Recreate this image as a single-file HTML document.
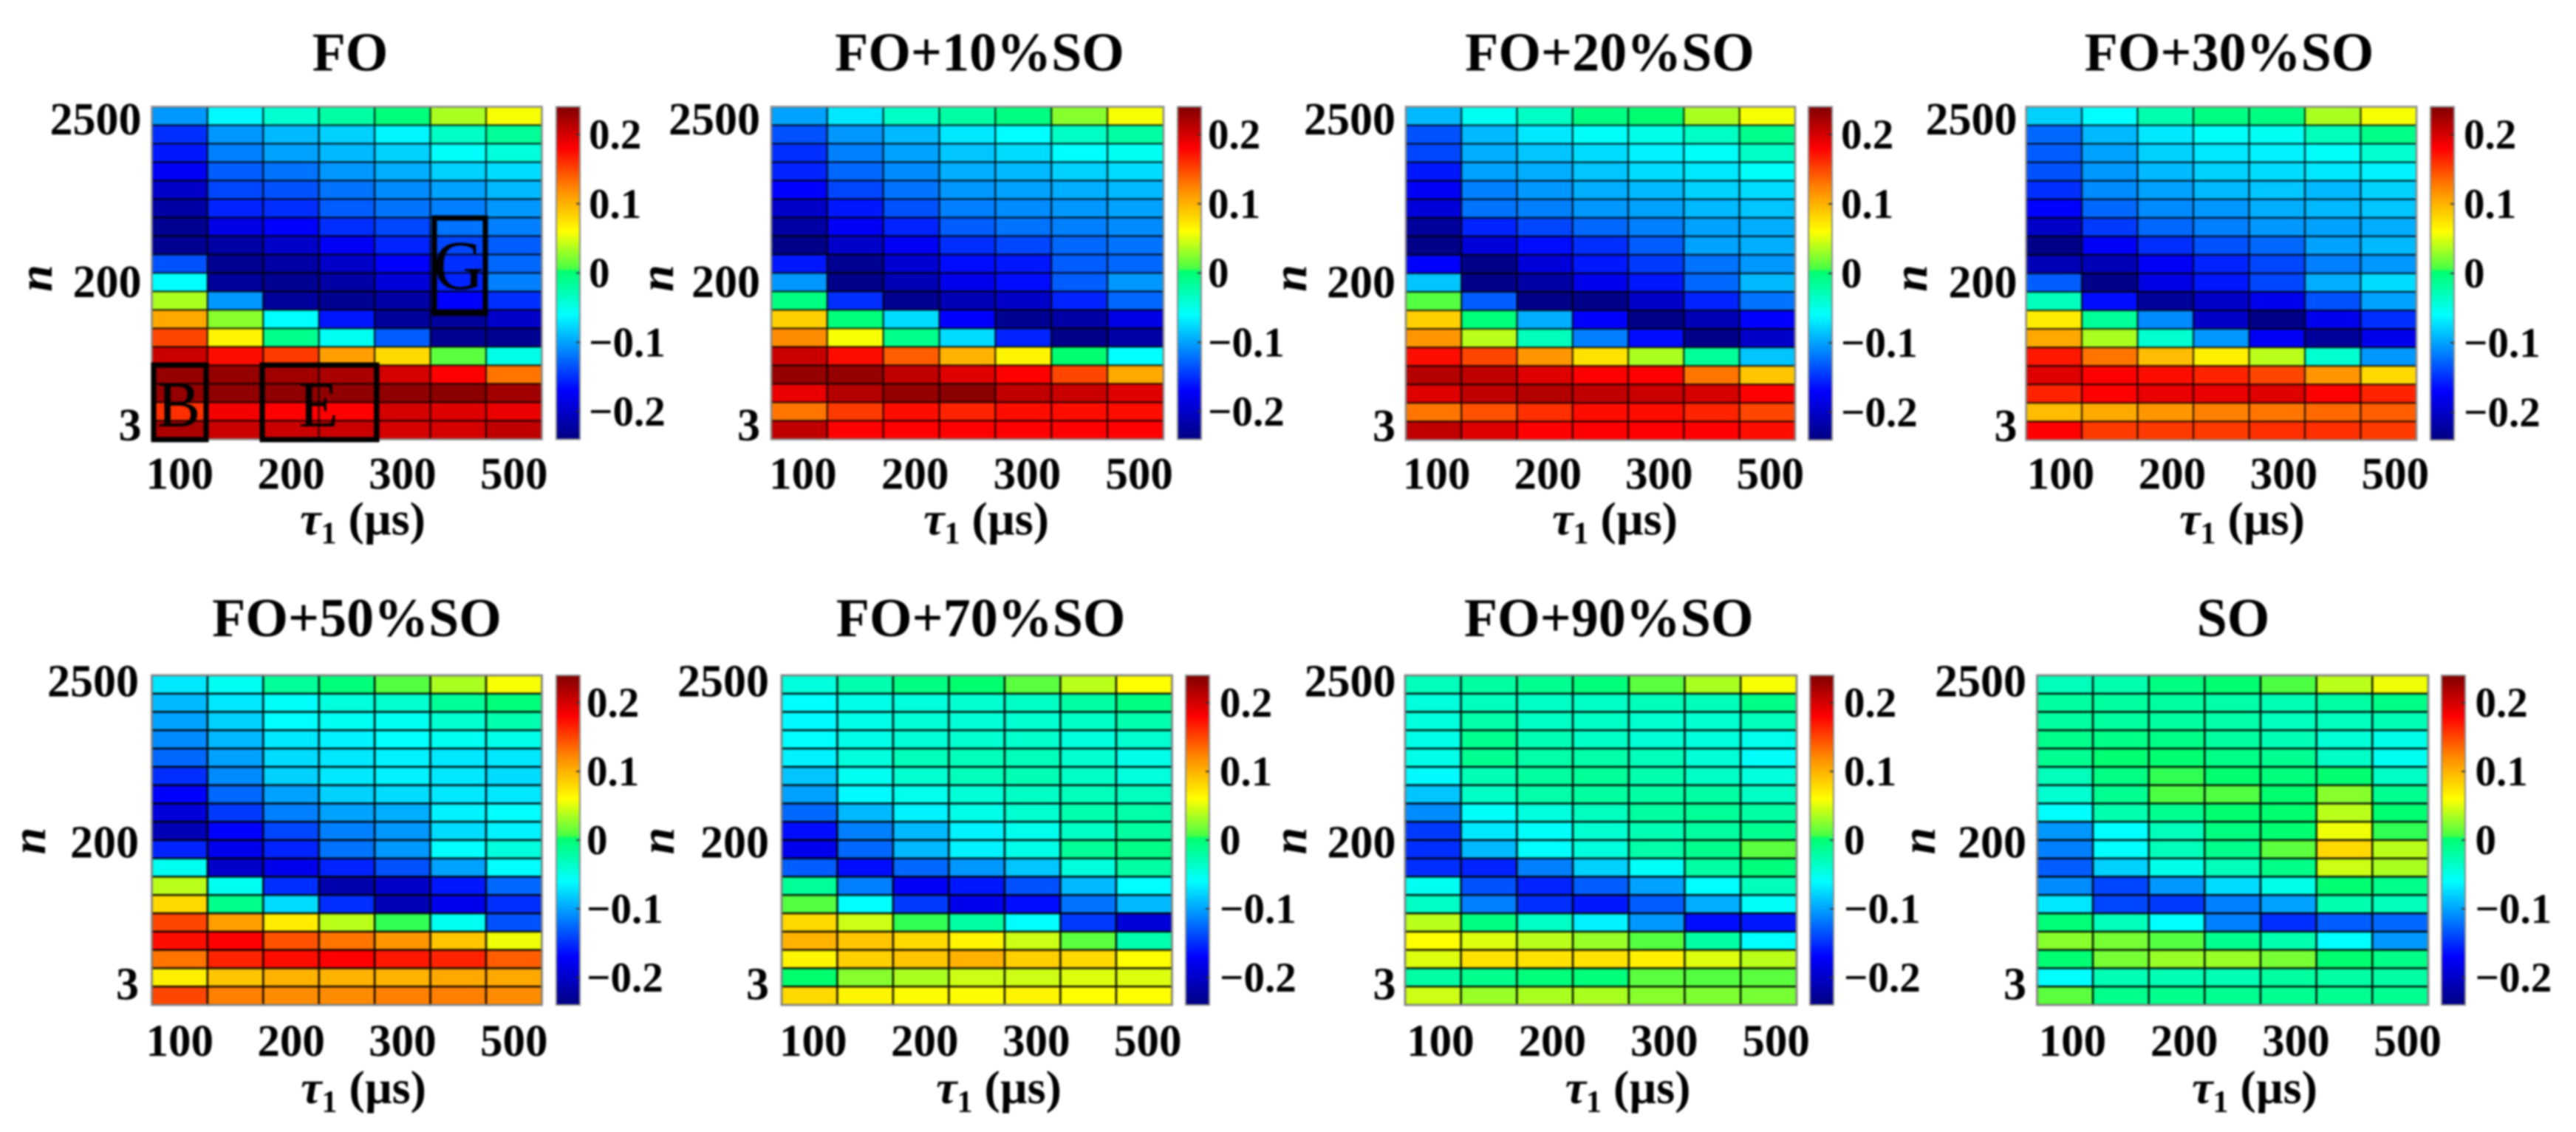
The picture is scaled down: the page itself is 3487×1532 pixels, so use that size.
<!DOCTYPE html>
<html lang="en">
<head>
<meta charset="utf-8">
<title>Heatmaps of n versus τ1 for FO and SO blends</title>
<style>
html,body{margin:0;padding:0;background:#fff;}
svg{display:block;filter:blur(1.3px);}
text{font-family:"Liberation Serif","DejaVu Serif",serif;fill:#000;}
.b{font-weight:bold;}
</style>
</head>
<body>
<svg id="chart" xmlns="http://www.w3.org/2000/svg" width="3487" height="1532" viewBox="0 0 3487 1532">
<rect width="3487" height="1532" fill="#fff"/>
<defs id="defs"></defs>
<g id="panels"></g>
<g>
  <rect x="208" y="494" width="71" height="101" fill="none" stroke="#000" stroke-width="7"/>
  <rect x="355" y="494" width="155" height="101" fill="none" stroke="#000" stroke-width="7"/>
  <rect x="588" y="295" width="69" height="129" fill="none" stroke="#000" stroke-width="7"/>
  <text x="242" y="577" font-size="88" text-anchor="middle">B</text>
  <text x="431" y="577" font-size="88" text-anchor="middle">E</text>
  <text x="621" y="391" font-size="94" text-anchor="middle">G</text>
</g>
</svg>
<script>
const tauValues = [100, 150, 200, 250, 300, 400, 500];
const nValues = [2500, 2000, 1500, 1000, 800, 600, 500, 400, 300, 200, 100, 50, 30, 20, 10, 7, 5, 3];
const xTickLabels = ['100', '200', '300', '500'];
const xTickValues = [100, 200, 300, 500];
const yTickLabels = ['2500', '200', '3'];
const yTickRowIndex = [0.2, 9.0, 16.76];
const cbarTickValues = [0.2, 0.1, 0, -0.1, -0.2];
const cbarTickLabels = ['0.2', '0.1', '0', '\u22120.1', '\u22120.2'];
const colorDomain = [-0.24, 0.24];
const colorStopValues = [-0.24, -0.17, -0.06, 0.003, 0.006, 0.06, 0.12, 0.18, 0.24];
const colorStopColors = [[0,0,128],[0,0,255],[0,255,255],[0,255,110],[70,255,70],[255,255,0],[255,140,0],[255,0,0],[128,0,0]];
const panelTitles = ['FO', 'FO+10%SO', 'FO+20%SO', 'FO+30%SO', 'FO+50%SO', 'FO+70%SO', 'FO+90%SO', 'SO'];

const valuesFO = [
[-.105,-.062,-.04,-.02,-.002,.035,.058],
[-.15,-.105,-.09,-.08,-.064,-.035,-.015],
[-.16,-.115,-.10,-.09,-.08,-.058,-.045],
[-.175,-.13,-.12,-.105,-.095,-.08,-.075],
[-.2,-.14,-.135,-.12,-.11,-.10,-.09],
[-.22,-.155,-.15,-.13,-.12,-.115,-.105],
[-.23,-.185,-.17,-.15,-.14,-.12,-.115],
[-.23,-.22,-.2,-.175,-.155,-.14,-.13],
[-.135,-.23,-.22,-.2,-.17,-.15,-.125],
[-.06,-.225,-.23,-.22,-.19,-.155,-.115],
[.035,-.105,-.225,-.23,-.22,-.17,-.15],
[.105,.025,-.06,-.16,-.225,-.225,-.2],
[.15,.065,-.01,-.055,-.13,-.23,-.23],
[.205,.175,.155,.11,.08,.012,-.05],
[.23,.23,.225,.22,.2,.18,.13],
[.23,.232,.232,.232,.232,.235,.225],
[.16,.185,.18,.18,.2,.195,.19],
[.22,.205,.205,.205,.2,.2,.21]];
const valuesFO10 = [
[-.1,-.07,-.035,-.02,-.005,.025,.058],
[-.135,-.105,-.09,-.07,-.06,-.035,-.02],
[-.15,-.115,-.1,-.085,-.075,-.06,-.055],
[-.155,-.125,-.11,-.095,-.09,-.08,-.075],
[-.17,-.14,-.12,-.105,-.1,-.095,-.09],
[-.2,-.16,-.135,-.115,-.11,-.105,-.1],
[-.22,-.175,-.155,-.13,-.12,-.115,-.11],
[-.235,-.2,-.175,-.15,-.14,-.125,-.12],
[-.16,-.23,-.195,-.165,-.16,-.13,-.125],
[-.105,-.235,-.21,-.18,-.165,-.13,-.105],
[-.005,-.15,-.23,-.21,-.2,-.155,-.125],
[.085,-.002,-.075,-.17,-.23,-.22,-.185],
[.12,.058,-.01,-.075,-.155,-.235,-.22],
[.205,.175,.14,.1,.065,.002,-.06],
[.23,.23,.21,.195,.18,.15,.105],
[.19,.215,.23,.235,.21,.205,.195],
[.13,.155,.175,.165,.175,.175,.175],
[.21,.18,.18,.18,.18,.18,.18]];
const valuesFO20 = [
[-.09,-.055,-.035,-.005,.002,.035,.058],
[-.135,-.09,-.07,-.058,-.05,-.035,-.01],
[-.14,-.095,-.085,-.075,-.065,-.058,-.035],
[-.16,-.1,-.095,-.085,-.075,-.07,-.058],
[-.175,-.115,-.105,-.095,-.09,-.08,-.075],
[-.19,-.12,-.115,-.105,-.1,-.09,-.085],
[-.225,-.155,-.14,-.125,-.115,-.1,-.095],
[-.235,-.19,-.165,-.15,-.13,-.1,-.095],
[-.17,-.235,-.19,-.16,-.145,-.12,-.105],
[-.085,-.235,-.22,-.18,-.16,-.125,-.09],
[.01,-.13,-.235,-.235,-.2,-.155,-.12],
[.085,-.002,-.095,-.17,-.235,-.21,-.17],
[.115,.04,-.03,-.115,-.165,-.235,-.2],
[.175,.15,.115,.075,.035,-.015,-.085],
[.215,.21,.195,.18,.18,.13,.09],
[.195,.21,.215,.21,.205,.2,.18],
[.13,.145,.16,.175,.175,.165,.15],
[.21,.195,.18,.18,.18,.18,.175]];
const valuesFO30 = [
[-.08,-.06,-.025,-.005,-.005,.035,.058],
[-.125,-.09,-.07,-.058,-.055,-.03,-.008],
[-.13,-.1,-.08,-.07,-.065,-.058,-.04],
[-.135,-.105,-.09,-.08,-.075,-.07,-.065],
[-.15,-.11,-.1,-.09,-.085,-.09,-.08],
[-.17,-.125,-.11,-.105,-.095,-.09,-.085],
[-.2,-.145,-.125,-.115,-.105,-.1,-.095],
[-.235,-.175,-.15,-.135,-.125,-.1,-.09],
[-.21,-.21,-.175,-.155,-.14,-.115,-.105],
[-.13,-.235,-.185,-.16,-.14,-.095,-.075],
[-.03,-.165,-.225,-.2,-.18,-.135,-.1],
[.07,-.015,-.11,-.2,-.235,-.18,-.15],
[.105,.035,-.04,-.105,-.175,-.225,-.18],
[.17,.13,.095,.068,.04,-.04,-.105],
[.195,.18,.175,.165,.15,.115,.08],
[.165,.18,.19,.19,.195,.18,.165],
[.095,.105,.115,.125,.13,.135,.14],
[.18,.155,.155,.155,.16,.16,.155]];
const valuesFO50 = [
[-.07,-.055,-.015,-.002,.01,.035,.058],
[-.09,-.07,-.058,-.045,-.04,-.015,-.002],
[-.1,-.08,-.06,-.055,-.055,-.04,-.025],
[-.11,-.09,-.07,-.065,-.06,-.055,-.05],
[-.125,-.1,-.075,-.07,-.065,-.07,-.07],
[-.15,-.11,-.08,-.07,-.065,-.07,-.075],
[-.17,-.125,-.1,-.08,-.075,-.07,-.07],
[-.19,-.145,-.115,-.1,-.095,-.065,-.06],
[-.21,-.17,-.14,-.115,-.105,-.075,-.065],
[-.155,-.18,-.155,-.12,-.105,-.06,-.045],
[-.055,-.2,-.18,-.155,-.135,-.1,-.06],
[.04,-.055,-.15,-.215,-.2,-.16,-.125],
[.08,-.01,-.075,-.15,-.21,-.18,-.15],
[.15,.11,.07,.04,.005,-.055,-.135],
[.175,.18,.145,.13,.115,.09,.055],
[.13,.165,.175,.18,.17,.165,.14],
[.068,.09,.1,.1,.1,.105,.105],
[.15,.125,.12,.12,.125,.125,.12]];
const valuesFO70 = [
[-.045,-.025,-.005,.003,.012,.04,.06],
[-.06,-.05,-.045,-.04,-.035,-.02,-.005],
[-.062,-.05,-.042,-.042,-.04,-.035,-.025],
[-.06,-.05,-.042,-.04,-.038,-.045,-.04],
[-.065,-.045,-.03,-.03,-.03,-.04,-.05],
[-.085,-.055,-.04,-.03,-.028,-.035,-.045],
[-.1,-.062,-.052,-.042,-.035,-.03,-.032],
[-.125,-.09,-.065,-.05,-.04,-.025,-.022],
[-.165,-.115,-.09,-.065,-.052,-.035,-.018],
[-.18,-.125,-.09,-.065,-.05,-.015,-.008],
[-.13,-.165,-.125,-.105,-.085,-.045,-.02],
[-.015,-.115,-.175,-.16,-.135,-.09,-.06],
[.01,-.06,-.145,-.18,-.165,-.12,-.09],
[.08,.045,.005,-.02,-.06,-.145,-.19],
[.1,.09,.08,.065,.045,.012,-.025],
[.065,.085,.09,.1,.085,.08,.06],
[.003,.025,.035,.045,.045,.05,.05],
[.08,.065,.062,.062,.065,.06,.06]];
const valuesFO90 = [
[-.03,-.018,-.012,-.002,.012,.035,.058],
[-.045,-.032,-.035,-.035,-.03,-.03,-.008],
[-.045,-.022,-.035,-.035,-.04,-.04,-.03],
[-.05,-.012,-.028,-.035,-.042,-.045,-.052],
[-.05,-.012,-.022,-.022,-.03,-.042,-.058],
[-.062,-.028,-.018,-.015,-.025,-.035,-.045],
[-.085,-.035,-.022,-.018,-.02,-.02,-.035],
[-.11,-.058,-.045,-.032,-.018,-.015,-.02],
[-.145,-.07,-.058,-.04,-.028,-.018,-.012],
[-.15,-.09,-.06,-.045,-.022,-.01,.012],
[-.15,-.155,-.115,-.08,-.058,-.02,-.002],
[-.055,-.135,-.155,-.13,-.1,-.06,-.03],
[-.035,-.115,-.15,-.16,-.13,-.095,-.058],
[.04,-.005,-.035,-.065,-.105,-.165,-.16],
[.06,.05,.04,.03,.01,-.02,-.06],
[.05,.075,.075,.075,.068,.05,.04],
[-.02,-.01,-.002,-.002,.012,.01,.012],
[.045,.03,.035,.035,.025,.022,.02]];
const valuesSO = [
[-.03,-.025,-.005,.002,.008,.04,.055],
[-.018,-.018,-.018,-.022,-.028,-.02,-.008],
[-.018,-.018,-.018,-.022,-.032,-.032,-.028],
[-.01,-.008,-.008,-.018,-.028,-.042,-.05],
[-.012,.001,.001,-.008,-.012,-.035,-.055],
[-.03,-.006,.005,.002,-.002,.002,-.035],
[-.04,-.012,.008,.009,.002,.025,-.012],
[-.06,-.025,-.012,.002,.002,.04,.001],
[-.105,-.06,-.03,-.005,.002,.055,.005],
[-.115,-.06,-.03,-.01,.012,.08,.04],
[-.13,-.08,-.05,-.03,-.008,.045,.035],
[-.11,-.14,-.105,-.075,-.05,.001,-.01],
[-.07,-.14,-.145,-.115,-.1,-.025,-.03],
[-.001,-.03,-.06,-.115,-.15,-.13,-.125],
[.025,.02,.01,-.012,-.025,-.06,-.105],
[.001,.02,.03,.03,.02,.002,-.008],
[-.06,-.028,-.028,-.028,-.018,-.02,-.02],
[.012,-.01,-.01,-.012,-.012,-.012,-.012]];
const panelValues = [valuesFO, valuesFO10, valuesFO20, valuesFO30, valuesFO50, valuesFO70, valuesFO90, valuesSO];

/* Layout of each subplot on the canvas (not data). */
const layouts = [
 {x:205.5, w:528, y:144.5, h:450, cb:753,  cl:797,  yr:191.5, xd:0,  title:474,    xl:491,    nx:70},
 {x:1044,  w:531, y:144.5, h:450, cb:1594, cl:1635, yr:1029,  xd:5,  title:1326,   xl:1335,   nx:911},
 {x:1903,  w:527, y:144.5, h:451, cb:2448, cl:2492, yr:1889,  xd:4,  title:2179,   xl:2186,   nx:1768},
 {x:2742.6,w:528.5,y:144.5,h:451, cb:3290, cl:3335, yr:2730.5,xd:9,  title:3017.5, xl:3035,   nx:2608},
 {x:205.5, w:528, y:914,   h:446, cb:753,  cl:794,  yr:188,   xd:0,  title:483,    xl:492,    nx:61},
 {x:1058,  w:528.5,y:914,  h:446, cb:1605, cl:1651, yr:1041,  xd:5,  title:1327.6, xl:1352,   nx:912},
 {x:1902,  w:530, y:914,   h:446, cb:2450, cl:2496, yr:1889.5,xd:10, title:2177.7, xl:2203.5, nx:1768},
 {x:2757.5,w:529.5,y:914,  h:446, cb:3305, cl:3350.5,yr:2743, xd:10, title:3023,   xl:3052,   nx:2619}
];

const SVGNS = 'http://www.w3.org/2000/svg';
const root = document.getElementById('panels');
const defs = document.getElementById('defs');

function colorScale(v) {
  const vals = colorStopValues, cols = colorStopColors;
  if (v <= vals[0]) return 'rgb(' + cols[0].join(',') + ')';
  for (let i = 1; i < vals.length; i++) {
    if (v <= vals[i]) {
      const t = (v - vals[i - 1]) / (vals[i] - vals[i - 1]);
      const c = cols[i - 1].map((a, k) => Math.round(a + (cols[i][k] - a) * t));
      return 'rgb(' + c.join(',') + ')';
    }
  }
  return 'rgb(' + cols[cols.length - 1].join(',') + ')';
}
function xScale(L, col) { return L.x + col * L.w / tauValues.length; }
function yScale(L, row) { return L.y + row * L.h / nValues.length; }
function cbarScale(L, v) { return L.y + L.h * (colorDomain[1] - v) / (colorDomain[1] - colorDomain[0]); }
function make(tag, attrs, parent) {
  const el = document.createElementNS(SVGNS, tag);
  for (const k in attrs) el.setAttribute(k, attrs[k]);
  parent.appendChild(el);
  return el;
}

/* Shared colour-bar gradient */
const grad = make('linearGradient', {id:'cbar-grad', x1:0, y1:1, x2:0, y2:0}, defs);
colorStopValues.forEach(function (v, i) {
  make('stop', {
    offset: (v - colorDomain[0]) / (colorDomain[1] - colorDomain[0]),
    'stop-color': 'rgb(' + colorStopColors[i].join(',') + ')'
  }, grad);
});

panelTitles.forEach(function (title, p) {
  const L = layouts[p];
  const values = panelValues[p];
  const secondRow = p >= 4;
  const g = make('g', {}, root);
  
  

  const t = make('text', {x:L.title, y:secondRow ? L.y - 53 : L.y - 49, 'font-size':74, 'text-anchor':'middle', class:'b'}, g);
  t.textContent = title;
  
  

  values.forEach(function (rowVals, r) {
    rowVals.forEach(function (v, c) {
      const cell = make('rect', {
        x: xScale(L, c), y: yScale(L, r),
        width: xScale(L, c + 1) - xScale(L, c),
        height: yScale(L, r + 1) - yScale(L, r),
        fill: colorScale(v), stroke: '#000', 'stroke-opacity': secondRow ? 0.8 : 0.7, 'stroke-width': secondRow ? 2.6 : 2.2
      }, g);
      
      
    });
  });

  const frame = make('rect', {x:L.x, y:L.y, width:L.w, height:L.h, fill:'none', stroke:'#8a8a8a', 'stroke-width':2.5}, g);
  
  

  /* y axis */
  yTickLabels.forEach(function (lab, i) {
    const shift = secondRow ? -9 : 0;
    const yt = make('text', {x:L.yr, y:yScale(L, yTickRowIndex[i] + 0.5) + 20 + shift, 'font-size':62, 'text-anchor':'end', class:'b'}, g);
    yt.textContent = lab;
    
    
  });
  const ny = L.y + (secondRow ? 224 : 232);
  const nl = make('text', {x:L.nx, y:ny, 'font-size':66, 'text-anchor':'middle', 'font-style':'italic', class:'b', transform:'rotate(-90 ' + L.nx + ' ' + ny + ')'}, g);
  nl.textContent = 'n';
  
  

  /* x axis */
  xTickLabels.forEach(function (lab, i) {
    const col = tauValues.indexOf(xTickValues[i]);
    const xt = make('text', {x:xScale(L, col + 0.5) + L.xd, y:L.y + (secondRow ? 515 : 517), 'font-size':61, 'text-anchor':'middle', class:'b'}, g);
    xt.textContent = lab;
    
    
  });
  const xl = make('text', {x:L.xl, y:L.y + 579, 'font-size':64, 'text-anchor':'middle', class:'b', fill:'#222'}, g);
  
  
  const tau = make('tspan', {'font-style':'italic'}, xl);
  tau.textContent = '\u03C4';
  const sub = make('tspan', {'font-size':42, dy:12}, xl);
  sub.textContent = '1';
  const rest = make('tspan', {dy:-12}, xl);
  rest.textContent = ' (\u00B5s)';

  /* colour bar */
  const bar = make('rect', {x:L.cb, y:L.y, width:32, height:L.h, fill:'url(#cbar-grad)', stroke:'#8a8a8a', 'stroke-width':2}, g);
  
  
  cbarTickValues.forEach(function (v, i) {
    const y = cbarScale(L, v);
    const tick = make('line', {x1:L.cb + 27, x2:L.cb + 32, y1:y, y2:y, stroke:'#333', 'stroke-width':2}, g);
    
    
    const lab = make('text', {x:L.cl, y:y + 19, 'font-size':57, class:'b'}, g);
    lab.textContent = cbarTickLabels[i];
    
    
  });
});
</script>
</body>
</html>
